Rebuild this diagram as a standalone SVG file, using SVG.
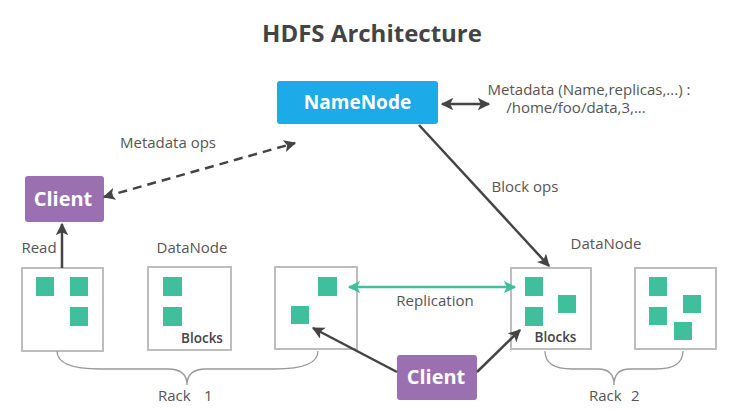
<svg xmlns="http://www.w3.org/2000/svg" width="740" height="411" viewBox="0 0 740 411">
<defs>
<marker id="ah" viewBox="0 0 10 10" refX="9" refY="5" markerWidth="5" markerHeight="5" markerUnits="strokeWidth" orient="auto-start-reverse">
<path d="M0,0 L10,5 L0,10 L2.5,5 z" fill="#444"/>
</marker>
<marker id="aht" viewBox="0 0 10 10" refX="9" refY="5" markerWidth="5" markerHeight="5" markerUnits="strokeWidth" orient="auto-start-reverse">
<path d="M0,0 L10,5 L0,10 L2.5,5 z" fill="#3fbf9c"/>
</marker>
</defs>
<style>
text{font-family:"Open Sans","Noto Sans","Liberation Sans",sans-serif;}
.lbl{font-size:15px;fill:#555;}
.title{font-size:24px;font-weight:700;fill:#444;}
.nodetxt{font-size:19px;font-weight:700;fill:#fff;}
.ctxt{font-size:20px;font-weight:700;fill:#fff;}
.blk{font-size:13.5px;font-weight:600;fill:#444;}
.dn{fill:#fff;stroke:#bdbdbd;stroke-width:2;}
.sq{fill:#40bf9d;}
.client{fill:#9b70b1;}
.conn{stroke:#444;stroke-width:2.5;fill:none;}
.brace{stroke:#999;stroke-width:1.3;fill:none;}
</style>
<rect width="740" height="411" fill="#fff"/>
<text class="title" x="372" y="42" text-anchor="middle">HDFS Architecture</text>

<g id="namenode">
<rect x="277" y="81" width="161" height="43" rx="3" fill="#1caae8"/>
<text class="nodetxt" x="357.5" y="109" text-anchor="middle">NameNode</text>
</g>
<g id="metadata">
<text class="lbl" x="589" y="95" text-anchor="middle">Metadata (Name,replicas,...) :</text>
<text class="lbl" x="576" y="113" text-anchor="middle">/home/foo/data,3,...</text>
</g>
<g id="client-left">
<rect class="client" x="25" y="176" width="79" height="46" rx="3"/>
<text class="ctxt" x="63" y="206" text-anchor="middle">Client</text>
</g>
<g id="client-bottom">
<rect class="client" x="397" y="355" width="80" height="45" rx="3"/>
<text class="ctxt" x="436" y="384" text-anchor="middle">Client</text>
</g>

<g id="dn1">
<rect class="dn" x="22" y="268" width="81" height="83"/>
<rect class="sq" x="36" y="277" width="18" height="19"/>
<rect class="sq" x="70" y="277" width="18" height="19"/>
<rect class="sq" x="70" y="307" width="18" height="19"/>
</g>
<g id="dn2">
<rect class="dn" x="148" y="267" width="83" height="83"/>
<rect class="sq" x="163" y="277" width="19" height="19"/>
<rect class="sq" x="163" y="307" width="19" height="19"/>
<text class="blk" x="202" y="343" text-anchor="middle">Blocks</text>
</g>
<g id="dn3">
<rect class="dn" x="275" y="267" width="82" height="82"/>
<rect class="sq" x="318" y="277" width="19" height="19"/>
<rect class="sq" x="291" y="306" width="18" height="18"/>
</g>
<g id="dn4">
<rect class="dn" x="511" y="268" width="80" height="81"/>
<rect class="sq" x="525" y="277" width="18" height="19"/>
<rect class="sq" x="558" y="295" width="18" height="18"/>
<rect class="sq" x="525" y="307" width="18" height="19"/>
<text class="blk" x="555.5" y="342" text-anchor="middle">Blocks</text>
</g>
<g id="dn5">
<rect class="dn" x="635" y="268" width="81" height="81"/>
<rect class="sq" x="649" y="277" width="18" height="19"/>
<rect class="sq" x="649" y="307" width="18" height="18"/>
<rect class="sq" x="683" y="295" width="18" height="18"/>
<rect class="sq" x="674" y="322" width="18" height="18"/>
</g>

<g id="labels">
<text class="lbl" x="168" y="148" text-anchor="middle">Metadata ops</text>
<text class="lbl" x="525" y="192" text-anchor="middle">Block ops</text>
<text class="lbl" x="39" y="253" text-anchor="middle">Read</text>
<text class="lbl" x="192" y="253" text-anchor="middle">DataNode</text>
<text class="lbl" x="606" y="249" text-anchor="middle">DataNode</text>
<text class="lbl" x="435" y="306" text-anchor="middle">Replication</text>
<text class="lbl" x="158" y="401">Rack</text>
<text class="lbl" x="204" y="401">1</text>
<text class="lbl" x="589" y="401">Rack</text>
<text class="lbl" x="631" y="401">2</text>
</g>

<g id="connectors">
<line class="conn" x1="442" y1="104" x2="489" y2="104" marker-start="url(#ah)" marker-end="url(#ah)"/>
<line class="conn" x1="104" y1="197" x2="295" y2="143" stroke-dasharray="9,6" marker-start="url(#ah)" marker-end="url(#ah)"/>
<line class="conn" x1="62" y1="268" x2="62" y2="224" marker-end="url(#ah)"/>
<line class="conn" x1="419" y1="125" x2="549" y2="266" marker-end="url(#ah)"/>
<line x1="349" y1="287" x2="515" y2="287" stroke="#3fbf9c" stroke-width="2.5" marker-start="url(#aht)" marker-end="url(#aht)"/>
<line class="conn" x1="397" y1="372" x2="313" y2="328" marker-end="url(#ah)"/>
<line class="conn" x1="477" y1="372" x2="520" y2="330" marker-end="url(#ah)"/>
<path class="brace" d="M57,351 Q57,369 100,369 L168,369 Q187,369 187,385 Q187,369 206,369 L275,369 Q318,369 318,351"/>
<path class="brace" d="M545,351 Q545,369 572,369 L598,369 Q614,369 614,385 Q614,369 630,369 L656,369 Q683,369 683,351"/>
</g>
</svg>
